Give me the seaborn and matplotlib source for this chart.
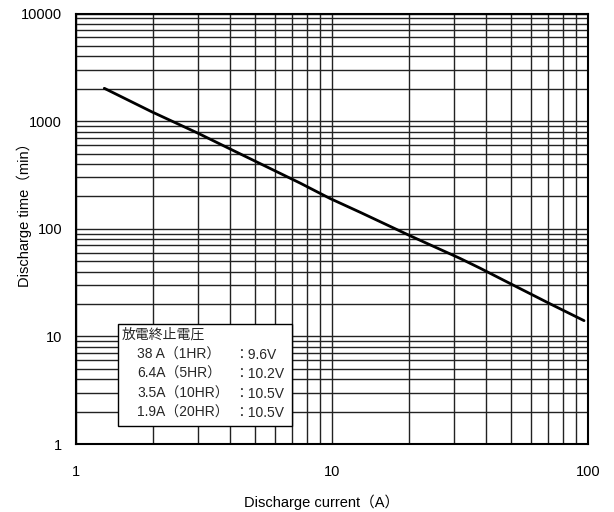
import matplotlib
matplotlib.use("Agg")
import matplotlib.pyplot as plt
import seaborn as sns
import pandas as pd
from matplotlib.ticker import LogLocator, FixedLocator, FixedFormatter, NullFormatter

# Discharge characteristic: current (A) vs. time to end voltage (min)
current_a = [1.29, 1.975, 3.0, 4.0, 7.5, 9.83, 12.9, 20.2, 31.6, 37.9, 50.0, 71.0, 96.5]
time_min = [2018, 1222, 771, 551, 266, 191, 142, 86.0, 53.1, 43.0, 30.7, 20.1, 14.0]

x_ticks = [1, 10, 100]
x_tick_labels = ["1", "10", "100"]
y_ticks = [1, 10, 100, 1000, 10000]
y_tick_labels = ["1", "10", "100", "1000", "10000"]

legend_title = "放電終止電圧"
legend_rates = ["38 A（1HR）", "6.4A（5HR）", "3.5A（10HR）", "1.9A（20HR）"]
legend_volts = ["：9.6V", "：10.2V", "：10.5V", "：10.5V"]

sns.set_theme(style="white")
plt.rcParams["font.family"] = ["Liberation Sans", "Noto Sans CJK JP", "DejaVu Sans"]

df = pd.DataFrame({"current": current_a, "time": time_min})

fig = plt.figure(figsize=(6.14, 5.12), dpi=100)
ax = fig.add_axes([76 / 614, 1 - 444 / 512, (588 - 76) / 614, (444 - 13.5) / 512])

ax.set_xscale("log")
ax.set_yscale("log")
ax.set_xlim(1, 100)
ax.set_ylim(1, 10000)

sns.lineplot(data=df, x="current", y="time", ax=ax, color="black", linewidth=2.0)

ax.xaxis.set_major_locator(FixedLocator(x_ticks))
ax.xaxis.set_major_formatter(FixedFormatter(x_tick_labels))
ax.yaxis.set_major_locator(FixedLocator(y_ticks))
ax.yaxis.set_major_formatter(FixedFormatter(y_tick_labels))
ax.xaxis.set_minor_locator(LogLocator(base=10, subs=range(2, 10)))
ax.yaxis.set_minor_locator(LogLocator(base=10, subs=range(2, 10)))
ax.xaxis.set_minor_formatter(NullFormatter())
ax.yaxis.set_minor_formatter(NullFormatter())

ax.grid(True, which="both", color="#222222", linewidth=1.0)
ax.tick_params(which="both", length=0)
ax.tick_params(axis="x", pad=15, labelsize=10.5, colors="black")
ax.tick_params(axis="y", pad=10, labelsize=10.5, colors="black")

for s in ax.spines.values():
    s.set_color("black")
    s.set_linewidth(1.5)

ax.set_xlabel("Discharge current（A）", fontsize=10.5, color="black")
ax.set_ylabel("Discharge time（min）", fontsize=10.5, color="black")
ax.xaxis.set_label_coords(0.479, -0.135)
ax.yaxis.set_label_coords(-0.102, 0.54)
ax.xaxis.label.set_va("center")
ax.yaxis.label.set_va("center")

# Legend box with end-of-discharge voltages
def fig_xy(px, py):
    return px / 614, 1 - py / 512

bx0, by0 = fig_xy(118, 426)
bx1, by1 = fig_xy(292, 324)
box = plt.Rectangle((bx0, by0), bx1 - bx0, by1 - by0, transform=fig.transFigure,
                    facecolor="white", edgecolor="black", linewidth=1.0, zorder=5)
fig.add_artist(box)

tx, ty = fig_xy(122, 335)
fig.text(tx, ty, legend_title, fontsize=10, va="center", ha="left", zorder=6)
row_y = [355, 374, 394, 413]
for yy, rate, volt in zip(row_y, legend_rates, legend_volts):
    x1, y1 = fig_xy(137, yy)
    fig.text(x1, y1, rate, fontsize=10, va="center", ha="left", zorder=6)
    x2, _ = fig_xy(234, yy)
    fig.text(x2, y1, volt, fontsize=10, va="center", ha="left", zorder=6)

fig.savefig("out.png", dpi=100)
